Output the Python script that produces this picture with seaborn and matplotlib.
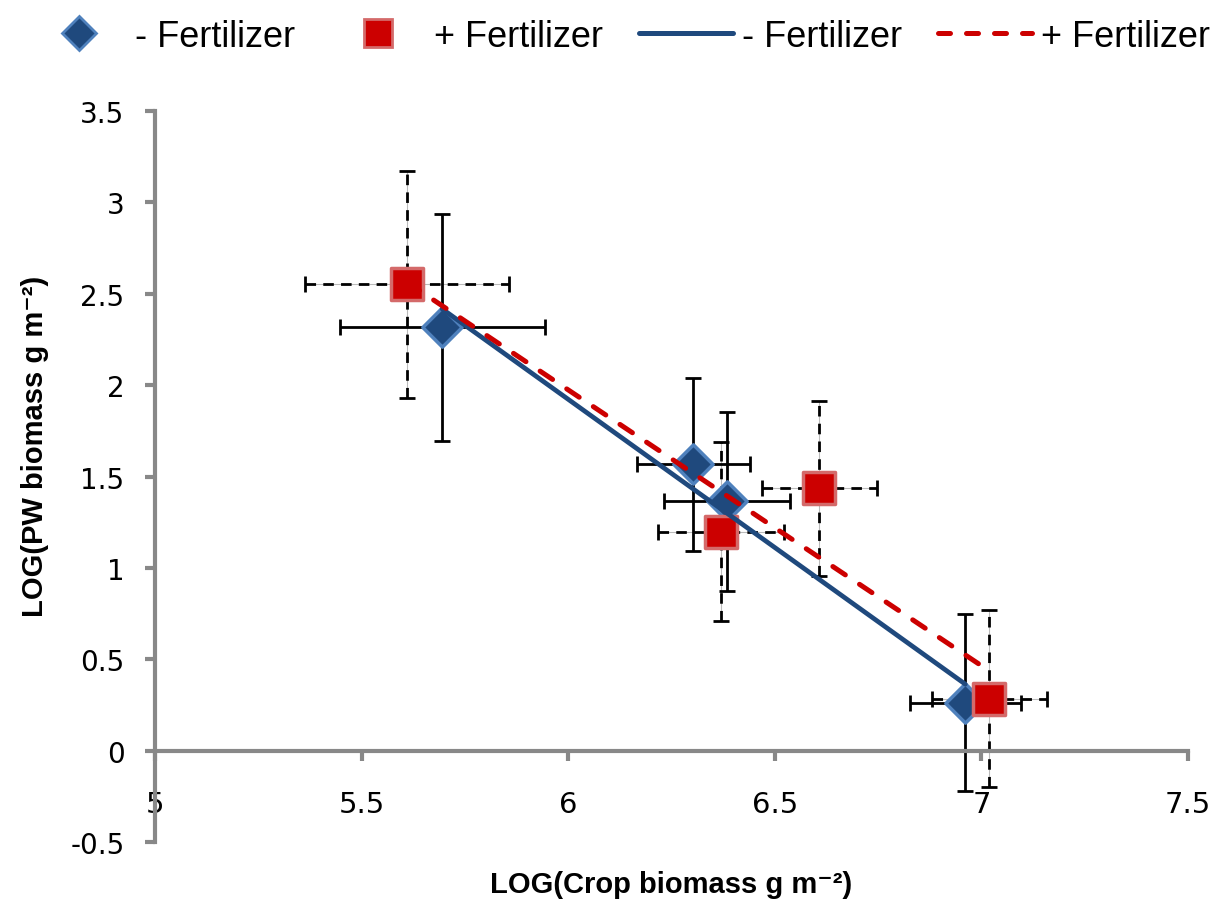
import numpy as np
import matplotlib
matplotlib.use("Agg")
import matplotlib.pyplot as plt
import seaborn as sns
from matplotlib.lines import Line2D

# data
crop_nofert = [5.695, 6.303, 6.385, 6.961]
pw_nofert = [2.317, 1.566, 1.364, 0.263]
crop_err_nofert = [0.248, 0.137, 0.152, 0.135]
pw_err_nofert = [0.62, 0.475, 0.49, 0.485]

crop_fert = [5.610, 6.370, 6.608, 7.019]
pw_fert = [2.552, 1.199, 1.435, 0.285]
crop_err_fert = [0.247, 0.152, 0.139, 0.139]
pw_err_fert = [0.62, 0.49, 0.477, 0.484]

x_ticks = [5, 5.5, 6, 6.5, 7, 7.5]
y_ticks = [-0.5, 0, 0.5, 1, 1.5, 2, 2.5, 3, 3.5]
legend_labels = ["- Fertilizer", "+ Fertilizer", "- Fertilizer", "+ Fertilizer"]

BLUE = "#1F497D"
BLUE_EDGE = "#4F81BD"
RED = "#CC0000"
RED_EDGE = "#D46A6A"
AXIS_GRAY = "#888888"

sns.set_style("ticks")
plt.rcParams["font.family"] = ["DejaVu Sans"]
plt.rcParams["text.color"] = "black"
plt.rcParams["xtick.color"] = "black"
plt.rcParams["ytick.color"] = "black"
SANS = ["Liberation Sans", "DejaVu Sans"]

fig = plt.figure(figsize=(12.23, 9.03), dpi=100)
ax = fig.add_axes([0.1267, 0.0664, 0.8447, 0.8096])

# error bars
ax.errorbar(crop_nofert, pw_nofert, xerr=crop_err_nofert, yerr=pw_err_nofert,
            fmt="none", ecolor="black", elinewidth=2, capsize=6, capthick=2, zorder=2)
ax.errorbar(crop_fert, pw_fert, xerr=crop_err_fert, yerr=pw_err_fert,
            fmt="none", ecolor="#BBBBBB", elinewidth=0.8, capsize=0, zorder=1)
eb = ax.errorbar(crop_fert, pw_fert, xerr=crop_err_fert, yerr=pw_err_fert,
                 fmt="none", ecolor="black", elinewidth=2, capsize=6, capthick=2, zorder=2)
for lc in eb[2]:
    lc.set_linestyle((0, (3.8, 2.6)))

# markers
sns.scatterplot(x=crop_nofert, y=pw_nofert, ax=ax, marker="D", s=400,
                color=BLUE, edgecolor=BLUE_EDGE, linewidth=2.5, zorder=3)
sns.scatterplot(x=crop_fert, y=pw_fert, ax=ax, marker="s", s=500,
                color=RED, edgecolor=RED_EDGE, linewidth=2.5, zorder=3)

# linear trend lines
sns.regplot(x=np.array(crop_nofert), y=np.array(pw_nofert), ax=ax, scatter=False,
            ci=None, truncate=True, color=BLUE,
            line_kws={"linewidth": 3.4, "zorder": 4, "solid_capstyle": "round"})
sns.regplot(x=np.array(crop_fert), y=np.array(pw_fert), ax=ax, scatter=False,
            ci=None, truncate=True, color=RED,
            line_kws={"linewidth": 3.6, "zorder": 5, "linestyle": (0, (3.0, 3.4)),
                      "dash_capstyle": "round"})

# axes styling
ax.set_xlim(5, 7.5)
ax.set_ylim(-0.5, 3.5)
ax.set_xticks(x_ticks)
ax.set_xticklabels([f"{t:g}" for t in x_ticks])
ax.set_yticks(y_ticks)
ax.set_yticklabels([f"{t:g}" for t in y_ticks])
ax.spines["top"].set_visible(False)
ax.spines["right"].set_visible(False)
ax.spines["bottom"].set_position(("data", 0))
for s in ("left", "bottom"):
    ax.spines[s].set_color(AXIS_GRAY)
    ax.spines[s].set_linewidth(3)
ax.tick_params(axis="x", bottom=True, direction="out", length=7, width=3,
               color=AXIS_GRAY, labelcolor="black", pad=21, labelsize=21)
ax.tick_params(axis="y", left=True, direction="out", length=7, width=3,
               color=AXIS_GRAY, labelcolor="black", pad=15, labelsize=20)

ax.set_xlabel("LOG(Crop biomass g m⁻²)", fontsize=21, fontweight="bold",
              family=SANS, color="black", va="center")
ax.xaxis.set_label_coords(0.5, -0.058)
ax.set_ylabel("LOG(PW biomass g m⁻²)", fontsize=21, fontweight="bold",
              family=SANS, color="black", va="center")
ax.yaxis.set_label_coords(-0.1165, 0.542)

handles = [
    Line2D([], [], marker="D", linestyle="none", markersize=17,
           markerfacecolor=BLUE, markeredgecolor=BLUE_EDGE, markeredgewidth=2),
    Line2D([], [], marker="s", linestyle="none", markersize=20,
           markerfacecolor=RED, markeredgecolor=RED_EDGE, markeredgewidth=2),
    Line2D([], [], color=BLUE, linewidth=3.6, solid_capstyle="round"),
    Line2D([], [], color=RED, linewidth=3.6, linestyle=(0, (2.4, 3.2)),
           dash_capstyle="round"),
]
fig.legend(handles, legend_labels,
           loc="upper center", bbox_to_anchor=(0.508, 1.0), ncol=4, frameon=False,
           prop={"family": SANS, "size": 26}, handlelength=2.6,
           handletextpad=0.25, columnspacing=1.0, borderaxespad=0.15)

fig.savefig("out.png", dpi=100, facecolor="white")
